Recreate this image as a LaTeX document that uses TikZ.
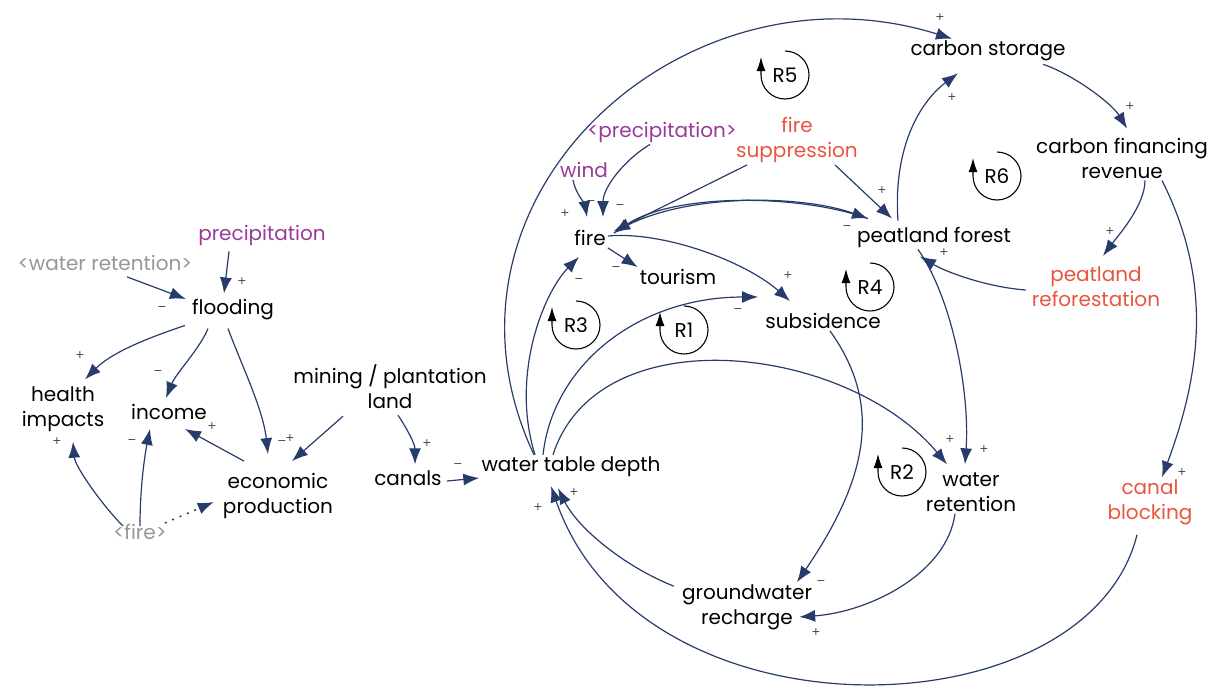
\documentclass[tikz,border=0pt]{standalone}
\usepackage{fontspec}
\setmainfont{Poppins}
\newfontfamily\signfont{DejaVu Sans}
\usetikzlibrary{arrows.meta,positioning}
\definecolor{linkblue}{RGB}{40,60,108}
\definecolor{exopurple}{RGB}{152,58,152}
\definecolor{policyred}{RGB}{232,86,62}
\definecolor{shadowgrey}{RGB}{150,150,150}
\tikzset{
varstyle/.style={
  align=center,
  inner sep=2pt,
  font=\fontsize{20}{25}\selectfont,
  text=black,
  }
}
\tikzset{
exostyle/.style={
  varstyle,
  text=exopurple,
  }
}
\tikzset{
policystyle/.style={
  varstyle,
  text=policyred,
  }
}
\tikzset{
shadowstyle/.style={
  varstyle,
  text=shadowgrey,
  }
}
\tikzset{
myline/.style={
  line width=1.2pt,
  draw=linkblue,
  -{Latex[length=16pt,width=12pt]}
  }
}
\tikzset{
dotline/.style={
  myline,
  line width=1.5pt,
  dash pattern=on 2pt off 6pt,
  }
}
\tikzset{
signstyle/.style={
  inner sep=0pt,
  font=\signfont\fontsize{11}{11}\selectfont,
  text=black!75,
  }
}
\tikzset{
loopline/.style={
  line width=1.1pt,
  -{Latex[length=14pt,width=9pt]}
  }
}
\newcommand{\loopmark}[2]{%
  \node[varstyle] (#1) at #2 {#1};
  \draw[loopline] #2 ++(0,-24) arc[start angle=-90,end angle=180,radius=24] -- ++(0,-18);
}

\begin{document}
\begin{tikzpicture}[x=1pt,y=-1pt]
    \useasboundingbox (0,0) rectangle (1210,686);

    % flooding part
    \node[exostyle] (precA) at (262,235) {precipitation};
    \node[shadowstyle] (wretB) at (105,263) {<water retention>};
    \node[varstyle] (flood) at (233,310) {flooding};
    \node[varstyle] (health) at (63,409) {health\\impacts};
    \node[varstyle] (income) at (169,412) {income};
    \node[varstyle] (econ) at (278,496) {economic\\production};
    \node[shadowstyle] (fireB) at (140,532) {<fire>};
    \node[varstyle] (mine) at (390,387) {mining / plantation\\land};
    \node[varstyle] (canals) at (408,478) {canals};

    % peat part
    \node[varstyle] (wtd) at (571,467) {water table depth};
    \node[varstyle] (fire) at (590,238) {fire};
    \node[exostyle] (wind) at (584,170) {wind};
    \node[exostyle] (precB) at (662,132) {<precipitation>};
    \node[policystyle] (fsup) at (797,140) {fire\\suppression};
    \node[varstyle] (tour) at (678,277) {tourism};
    \node[varstyle] (subs) at (823,321) {subsidence};
    \node[varstyle] (grec) at (747,607) {groundwater\\recharge};
    \node[varstyle] (wret) at (971,492) {water\\retention};
    \node[varstyle] (peat) at (934,237) {peatland forest};
    \node[policystyle] (refor) at (1096,287) {peatland\\reforestation};

    % carbon part
    \node[varstyle] (cstore) at (988,51) {carbon storage};
    \node[varstyle] (cfin) at (1122,158) {carbon financing\\revenue};
    \node[policystyle] (cblock) at (1150,502) {canal\\blocking};

    % loops
    \loopmark{R1}{(684,330)}
    \loopmark{R2}{(902,472)}
    \loopmark{R3}{(576,325)}
    \loopmark{R4}{(870,287)}
    \loopmark{R5}{(785,75)}
    \loopmark{R6}{(997,176)}

    % flooding edges
    \draw[myline] ([xshift=-33pt,yshift=-4pt]precA.south) -- ([xshift=-9pt,yshift=4pt]flood.north);
    \draw[myline] ([xshift=22pt,yshift=-4pt]wretB.south) -- ([xshift=-4pt,yshift=11pt]flood.west);
    \draw[myline] ([xshift=-5pt,yshift=-3pt]flood.south west) .. controls +(-45,15) and +(25,-25) .. ([xshift=22pt,yshift=5pt]health.north);
    \draw[myline] ([xshift=-25pt,yshift=-6pt]flood.south) .. controls +(-8,20) and +(10,-25) .. ([xshift=-3pt,yshift=4pt]income.north);
    \draw[myline] ([xshift=-5pt,yshift=-6pt]flood.south) .. controls +(15,40) and +(-5,-45) .. ([xshift=-10pt,yshift=17pt]econ.north);
    \draw[myline] ([xshift=-34pt,yshift=10pt]econ.north) -- ([xshift=16pt,yshift=-7pt]income.south);
    \draw[myline] ([xshift=-17pt,yshift=-4pt]fireB.north) .. controls +(-20,-20) and +(2,25) .. ([xshift=10pt,yshift=-8pt]health.south);
    \draw[myline] ([yshift=-4pt]fireB.north) .. controls +(0,-40) and +(-5,25) .. ([xshift=-19pt,yshift=-7pt]income.south);
    \draw[dotline] ([xshift=-4pt,yshift=-1pt]fireB.north east) -- ([xshift=-7pt,yshift=-6pt]econ.west);
    \draw[myline] ([xshift=-47pt,yshift=-5pt]mine.south) -- ([xshift=14pt,yshift=10pt]econ.north);
    \draw[myline] ([xshift=8pt,yshift=-4pt]mine.south) .. controls +(10,15) and +(0,-20) .. ([xshift=7pt,yshift=4pt]canals.north);
    \draw[myline] ([xshift=3pt,yshift=-3pt]canals.east) -- ([yshift=-11pt]wtd.west);

    % peat edges
    \draw[myline] ([xshift=-37pt]wtd.north) .. controls +(-120,-256) and +(-268,-84) .. ([xshift=-36pt]cstore.north);
    \draw[myline] ([xshift=-36pt]wtd.north) .. controls +(-25,-80) and +(-35,35) .. ([xshift=-11pt,yshift=-9pt]fire.south);
    \draw[myline] ([xshift=-28pt]wtd.north) .. controls +(10,-90) and +(-120,0) .. ([xshift=-5pt,yshift=24pt]subs.west);
    \draw[myline] ([xshift=-18pt]wtd.north) .. controls +(45,-140) and +(-100,-120) .. ([xshift=-24pt,yshift=6pt]wret.north);
    \draw[myline] ([xshift=-11pt]wind.south) .. controls +(2,12) and +(-2,-12) .. ([xshift=-3pt,yshift=11pt]fire.north);
    \draw[myline] ([xshift=-12pt]precB.south) .. controls +(-25,15) and +(0,-30) .. ([xshift=13pt,yshift=11pt]fire.north);
    \draw[myline] ([xshift=-50pt]fsup.south) -- ([xshift=6pt,yshift=-3pt]fire.north east);
    \draw[myline] ([xshift=-66pt,yshift=6pt]peat.north) .. controls +(-70,-25) and +(60,-40) .. ([xshift=6pt,yshift=-5pt]fire.north east);
    \draw[myline] ([xshift=6pt,yshift=-5pt]fire.north east) .. controls +(60,-40) and +(-70,-25) .. ([xshift=-66pt,yshift=6pt]peat.north);
    \draw[myline] ([xshift=38pt]fsup.south) -- ([xshift=-42pt,yshift=6pt]peat.north);
    \draw[myline] (fire.south east) -- (tour.north west);
    \draw[myline] ([yshift=2pt]fire.east) .. controls +(55,-5) and +(-45,-40) .. ([xshift=-33pt,yshift=10pt]subs.north);
    \draw[myline] ([xshift=7pt]subs.south) .. controls +(50,70) and +(75,-110) .. ([xshift=50pt]grec.north);
    \draw[myline] ([xshift=-16pt]wret.south) .. controls +(-8,60) and +(70,-5) .. ([xshift=-15pt,yshift=-10pt]grec.east);
    \draw[myline] ([xshift=-6pt,yshift=-4pt]grec.north west) .. controls +(-50,-20) and +(20,40) .. ([xshift=-13pt,yshift=-9pt]wtd.south);
    \draw[myline] ([xshift=-13pt,yshift=-8pt]cblock.south) .. controls +(-50,200) and +(90,260) .. ([xshift=-20pt,yshift=-7pt]wtd.south);
    \draw[myline] ([xshift=-36pt,yshift=4pt]peat.north) .. controls +(-5,-70) and +(-40,30) .. ([xshift=-30pt,yshift=-10pt]cstore.south);
    \draw[myline] ([xshift=-16pt]peat.south) .. controls +(35,50) and +(5,-70) .. ([xshift=-6pt,yshift=6pt]wret.north);
    \draw[myline] ([xshift=-4pt,yshift=-3pt]refor.west) .. controls +(-40,-3) and +(25,15) .. ([xshift=-14pt,yshift=-7pt]peat.south);

    % carbon edges
    \draw[myline] ([xshift=55pt,yshift=-1pt]cstore.south) .. controls +(30,10) and +(-15,-25) .. ([xshift=5pt,yshift=7pt]cfin.north);
    \draw[myline] ([xshift=23pt]cfin.south) .. controls +(0,25) and +(15,-20) .. ([xshift=7pt,yshift=9pt]refor.north);
    \draw[myline] ([xshift=40pt]cfin.south) .. controls +(45,90) and +(45,-120) .. ([xshift=12pt]cblock.north);

    % signs
    \foreach \x/\y/\s [count=\i] in {242/281/+, 162/309/−, 80/355/+, 158/373/−, 282/443/−, 290/438/+,
        212/426/+, 57/441/+, 132/442/−, 427/443/+, 458/466/−, 574/492/+, 538/507/+, 565/213/+,
        591/203/−, 620/207/−, 579/281/−, 616/269/−, 788/275/+, 738/311/−, 847/228/−, 882/190/+,
        940/17/+, 952/97/+, 1130/106/+, 1110/231/+, 944/252/+, 1182/472/+, 950/439/+, 984/449/+,
        821/583/−, 816/632/+}
      \node[signstyle] (sgn\i) at (\x,\y) {\s};
\end{tikzpicture}
\end{document}
